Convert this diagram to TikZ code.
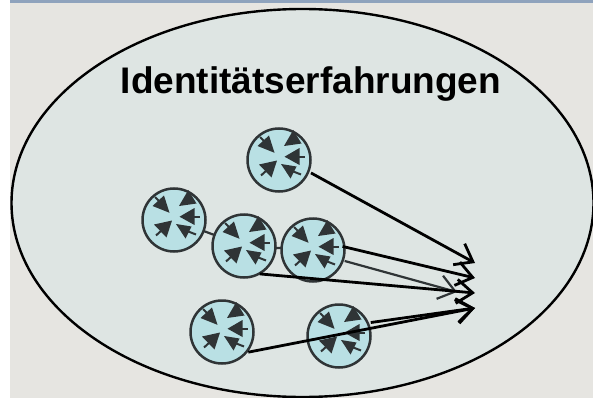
\documentclass[tikz,border=0pt]{standalone}
\usepackage{fontspec}
\setmainfont{Liberation Sans}
\usepackage{tikz}
\usetikzlibrary{arrows.meta, positioning, shapes.geometric}

\definecolor{pagegray}{HTML}{E6E5E1}
\definecolor{cloudgray}{HTML}{DEE5E3}
\definecolor{routerblue}{HTML}{B9E0E4}
\definecolor{wedgegray}{HTML}{2F3436}
\definecolor{bandblue}{HTML}{8FA3BD}

\tikzset{
  router/.style={circle,draw=wedgegray,line width=2.5pt,fill=routerblue,
    minimum size=63pt,inner sep=0pt,outer sep=3pt},
  flow/.style={-{Straight Barb[length=16pt,width=24pt]},line width=2.8pt,black},
  graylink/.style={line width=2.2pt,wedgegray,shorten <=-3pt,shorten >=-3pt},
  wedges/.pic={
    \fill[wedgegray] (-4.5,7.2) -- (-21.5,14) -- (-10,24.5) -- cycle;
    \draw[wedgegray,line width=2pt] (-15,19) -- (-19,23);
    \fill[wedgegray] (5,14) -- (22.5,16.5) -- (14.3,30) -- cycle;
    \fill[wedgegray] (5.5,3.3) -- (20.5,12) -- (20.5,-5) -- cycle;
    \draw[wedgegray,line width=2pt] (19,3.3) -- (25.5,3.3);
    \fill[wedgegray] (-2,-0.5) -- (-20,-4.5) -- (-7.5,-17.5) -- cycle;
    \draw[wedgegray,line width=2pt] (-12,-10) -- (-18,-15.5);
    \fill[wedgegray] (2,-4) -- (11.5,-18.5) -- (17.5,-6.5) -- cycle;
    \draw[wedgegray,line width=2pt] (13,-11) -- (22,-14.5);
  }
}

\begin{document}
\begin{tikzpicture}[x=1pt,y=1pt]
  \useasboundingbox (0,0) rectangle (593,-398);
  \fill[white] (0,0) rectangle (593,-398);
  \fill[pagegray] (10,0) rectangle (593,-398);
  \fill[bandblue] (10,0) rectangle (593,-3);

  % big cloud
  \node[ellipse,draw=black,line width=2.4pt,fill=cloudgray,minimum width=582pt,minimum height=388pt,inner sep=0pt] (cloud) at (302.5,-203) {};
  \node[font=\bfseries\fontsize{37}{37}\selectfont,anchor=base] (title) at (311,-94) {Identitätserfahrungen};

  % routers
  \foreach \name/\pos in {r1/{(279,-160)},r2/{(174,-220)},r3/{(244,-246)},r4/{(313,-250)},r5/{(222,-332)},r6/{(339,-336)}}
    \node[router] (\name) at \pos {};
  \foreach \name in {r1,r2,r3,r4,r5,r6}
    \path (\name) pic {wedges};

  \coordinate (t1) at (475,-263);
  \coordinate (t2) at (475,-278);
  \coordinate (t3) at (457,-292);
  \coordinate (t4) at (475,-293);
  \coordinate (t5) at (475,-308);

  \draw[graylink] (r2) -- (r3);
  \draw[graylink] (r3) -- (r4);

  \draw[flow,wedgegray,line width=2.2pt,shorten <=-1pt] (r4.-19) -- (t3);
  \draw[flow] (r1.-22) -- (t1);
  \draw[flow,shorten <=-5pt] (r4.4) -- (t2);
  \draw[flow,shorten <=-4pt] (r3.-55) -- (t4);
  \draw[flow,shorten <=-2pt] (r5.-35) -- (t5);
  \draw[flow] (r6.23) -- (t5);
\end{tikzpicture}
\end{document}
